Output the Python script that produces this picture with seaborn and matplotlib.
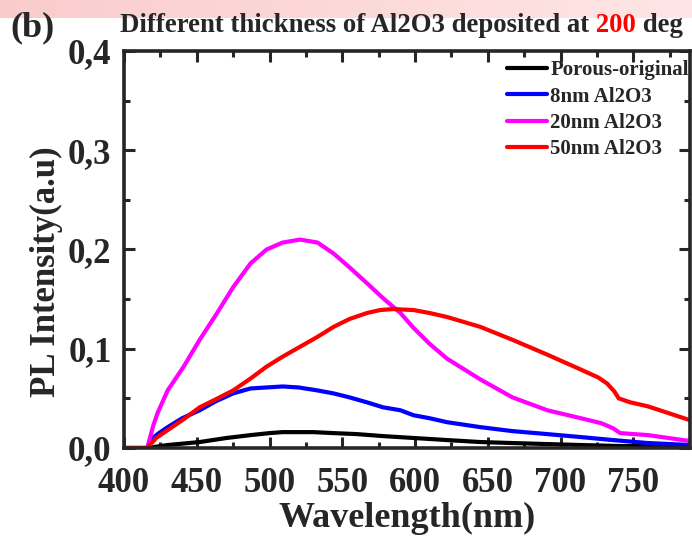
import numpy as np
import pandas as pd
import matplotlib
matplotlib.use("Agg")
import matplotlib.pyplot as plt
from matplotlib.ticker import MultipleLocator, FuncFormatter
import seaborn as sns

# PL spectra (wavelength in nm, intensity in a.u.)
wl_porous = [400, 410, 416, 430, 452, 470, 487, 500, 509, 520, 530, 544, 560, 578, 600, 622, 645, 667, 690, 714, 740, 760, 789]
pl_porous = [0.0, 0.0, 0.0, 0.003, 0.006, 0.010, 0.013, 0.015, 0.016, 0.016, 0.016, 0.015, 0.014, 0.012, 0.010, 0.008, 0.006, 0.005, 0.004, 0.003, 0.002, 0.002, 0.001]

wl_8nm = [400, 410, 416, 418, 424, 430, 440, 452, 463, 475, 487, 498, 509, 520, 533, 544, 555, 567, 578, 590, 599, 610, 622, 645, 667, 691, 714, 736, 760, 789]
pl_8nm = [0.0, 0.0, 0.0, 0.008, 0.015, 0.021, 0.030, 0.038, 0.047, 0.055, 0.060, 0.061, 0.062, 0.061, 0.058, 0.055, 0.051, 0.046, 0.041, 0.038, 0.033, 0.030, 0.026, 0.021, 0.017, 0.014, 0.011, 0.008, 0.005, 0.003]

wl_20nm = [400, 410, 416, 420, 423, 430, 441, 452, 464, 475, 487, 498, 509, 521, 533, 544, 555, 567, 578, 590, 599, 610, 622, 645, 667, 691, 714, 728, 736, 741, 760, 789]
pl_20nm = [0.0, 0.0, 0.0, 0.022, 0.035, 0.058, 0.082, 0.109, 0.136, 0.162, 0.186, 0.200, 0.207, 0.210, 0.207, 0.196, 0.182, 0.166, 0.151, 0.136, 0.121, 0.105, 0.090, 0.069, 0.051, 0.038, 0.030, 0.025, 0.020, 0.015, 0.013, 0.007]

wl_50nm = [400, 410, 416, 422, 430, 441, 452, 463, 475, 487, 498, 509, 521, 533, 544, 555, 567, 576, 585, 599, 610, 622, 645, 667, 691, 714, 726, 732, 737, 740, 748, 760, 789]
pl_50nm = [0.0, 0.0, 0.0, 0.010, 0.018, 0.029, 0.041, 0.049, 0.058, 0.070, 0.082, 0.092, 0.102, 0.112, 0.122, 0.130, 0.136, 0.139, 0.140, 0.139, 0.136, 0.132, 0.122, 0.109, 0.094, 0.079, 0.071, 0.065, 0.057, 0.050, 0.046, 0.042, 0.028]

labels = ["Porous-original", "8nm Al2O3", "20nm Al2O3", "50nm Al2O3"]
colors = ["#000000", "#0000ff", "#ff00ff", "#ff0000"]

frames = []
for lab, w, p in zip(labels, [wl_porous, wl_8nm, wl_20nm, wl_50nm],
                     [pl_porous, pl_8nm, pl_20nm, pl_50nm]):
    frames.append(pd.DataFrame({"Wavelength": w, "PL": p, "Sample": lab}))
df = pd.concat(frames, ignore_index=True)

sns.set_style("ticks")
plt.rcParams["font.family"] = ["Liberation Serif", "DejaVu Serif"]
plt.rcParams["font.weight"] = "bold"

fig = plt.figure(figsize=(6.92, 5.37), dpi=100)

# faint pink band across the top edge
band = fig.add_axes([0, 1 - 18 / 537, 1, 18 / 537])
grad = np.linspace(0, 1, 256)[None, :, None]
c0 = np.array([0.98, 0.80, 0.80])
c1 = np.array([1.00, 0.90, 0.90])
band.imshow(c0 + (c1 - c0) * grad, aspect="auto", extent=[0, 1, 0, 1])
band.set_axis_off()

ax = fig.add_axes([124 / 692, 1 - 448 / 537, (690 - 124) / 692, (448 - 51) / 537])
sns.lineplot(data=df, x="Wavelength", y="PL", hue="Sample", hue_order=labels,
             palette=colors, linewidth=3.0, ax=ax, legend=True,
             estimator=None, sort=False)

ax.set_xlim(400, 789)
ax.set_ylim(0, 0.4)
ax.xaxis.set_major_locator(MultipleLocator(50))
ax.xaxis.set_minor_locator(MultipleLocator(25))
ax.yaxis.set_major_locator(MultipleLocator(0.1))
ax.yaxis.set_minor_locator(MultipleLocator(0.05))
ax.yaxis.set_major_formatter(FuncFormatter(lambda v, p: f"{v:.1f}".replace(".", ",")))

for s in ax.spines.values():
    s.set_linewidth(2.6)
    s.set_visible(True)
ax.tick_params(which="both", direction="in", top=True, right=True, width=2.2)
ax.tick_params(which="major", length=8, labelsize=25)
ax.tick_params(axis="x", which="major", pad=14)
ax.tick_params(axis="y", which="major", pad=9)
ax.tick_params(which="minor", length=4.5)
for t in ax.get_xticklabels() + ax.get_yticklabels():
    t.set_fontweight("bold")

ax.set_xlabel("Wavelength(nm)", fontsize=26, fontweight="bold", labelpad=1)
ax.set_ylabel("PL Intensity(a.u)", fontsize=25, fontweight="bold")
ax.yaxis.set_label_coords(-0.108, 0.443)

leg = ax.legend(loc="upper right", bbox_to_anchor=(1.005, 0.987), frameon=False,
                fontsize=15, handlelength=1.9, handletextpad=0.15,
                labelspacing=0.3, borderaxespad=0.0, borderpad=0.2)
for txt in leg.get_texts():
    txt.set_fontweight("bold")
for h in leg.get_lines():
    h.set_linewidth(3.0)

# panel label and title with the temperature in red
fig.text(10 / 692, 1 - 36 / 537, "(b)", fontsize=26, fontweight="bold", va="baseline")
ty = 1 - 32 / 537
t1 = fig.text(120 / 692, ty, "Different thickness of Al2O3 deposited at",
              fontsize=19.3, fontweight="bold", va="baseline")
t2 = fig.text(0, ty, " 200", fontsize=19.3, fontweight="bold", color="#ff0000", va="baseline")
t3 = fig.text(0, ty, " deg", fontsize=19.3, fontweight="bold", va="baseline")
fig.canvas.draw()
r = fig.canvas.get_renderer()
W = fig.bbox.width
t2.set_x(t1.get_window_extent(r).x1 / W)
t3.set_x(t2.get_window_extent(r).x1 / W)

fig.savefig("out.png", dpi=100)
